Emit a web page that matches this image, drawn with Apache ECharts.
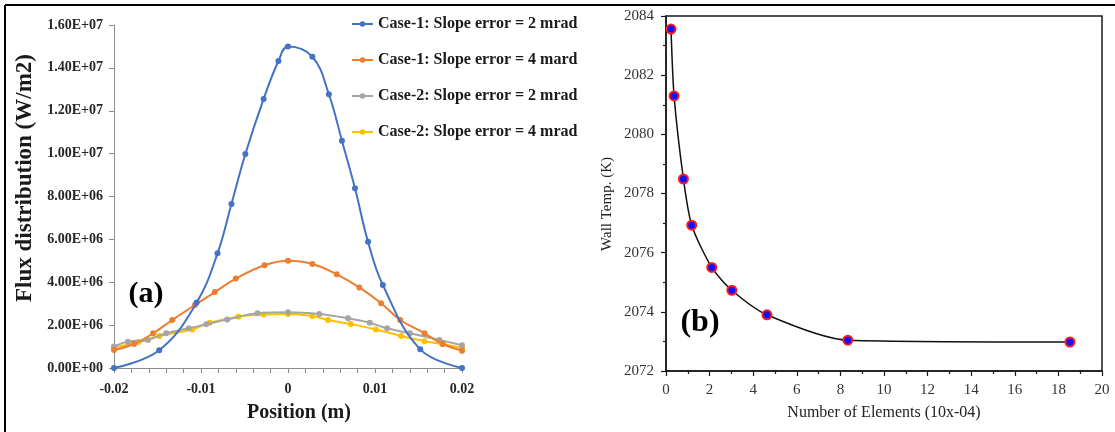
<!DOCTYPE html>
<html>
<head>
<meta charset="utf-8">
<title>Flux distribution and mesh independence</title>
<script src="https://cdn.jsdelivr.net/npm/echarts@6/dist/echarts.min.js"></script>
<style>
  html, body { margin: 0; padding: 0; background: #fff; }
  #chart { width: 1115px; height: 432px; }
</style>
</head>
<body>
<div id="chart"></div>
<script>
// ---- Panel (a): flux distribution along the receiver (position in m, flux in W/m2) ----
const case1Err2X = [-0.02, -0.0148, -0.0105, -0.0081, -0.0065, -0.0049, -0.0028, -0.0011, 0, 0.0028, 0.0047, 0.0062, 0.0077, 0.0092, 0.0109, 0.0152, 0.02];
const case1Err2Y = [0, 0.83e6, 3.05e6, 5.35e6, 7.65e6, 9.98e6, 12.55e6, 14.32e6, 15.0e6, 14.52e6, 12.77e6, 10.6e6, 8.38e6, 5.89e6, 3.87e6, 0.87e6, 0];

const case1Err4X = [-0.02, -0.0177, -0.0155, -0.0133, -0.0107, -0.0084, -0.006, -0.0027, 0, 0.0028, 0.0056, 0.0082, 0.0107, 0.0129, 0.0157, 0.0178, 0.02];
const case1Err4Y = [0.84e6, 1.12e6, 1.62e6, 2.24e6, 2.94e6, 3.54e6, 4.17e6, 4.79e6, 5.0e6, 4.85e6, 4.37e6, 3.76e6, 3.02e6, 2.24e6, 1.62e6, 1.12e6, 0.81e6];

const case2Err2X = [-0.02, -0.0184, -0.0161, -0.014, -0.0114, -0.0094, -0.007, -0.0035, 0, 0.0036, 0.0069, 0.0094, 0.0114, 0.014, 0.0174, 0.02];
const case2Err2Y = [1.0e6, 1.23e6, 1.31e6, 1.62e6, 1.85e6, 2.04e6, 2.26e6, 2.55e6, 2.6e6, 2.52e6, 2.32e6, 2.11e6, 1.85e6, 1.62e6, 1.31e6, 1.06e6];

const case2Err4X = [-0.02, -0.0172, -0.0148, -0.011, -0.009, -0.0057, -0.0028, 0, 0.0028, 0.0046, 0.0072, 0.0101, 0.013, 0.0157, 0.0177, 0.02];
const case2Err4Y = [0.95e6, 1.21e6, 1.49e6, 1.8e6, 2.11e6, 2.39e6, 2.49e6, 2.52e6, 2.42e6, 2.24e6, 2.05e6, 1.8e6, 1.49e6, 1.25e6, 1.12e6, 0.93e6];

const seriesNames = [
  'Case-1: Slope error = 2 mrad',
  'Case-1: Slope error = 4 mard',
  'Case-2: Slope error = 2 mrad',
  'Case-2: Slope error = 4 mrad'
];
const positionTicks = ['-0.02', '-0.01', '0', '0.01', '0.02'];
const fluxTicks = ['0.00E+00', '2.00E+06', '4.00E+06', '6.00E+06', '8.00E+06', '1.00E+07', '1.20E+07', '1.40E+07', '1.60E+07'];

// ---- Panel (b): wall temperature vs. mesh size ----
const elementsX = [0.23, 0.37, 0.8, 1.18, 2.1, 3.02, 4.63, 8.34, 18.53];
const wallTempY = [2083.56, 2081.30, 2078.49, 2076.93, 2075.50, 2074.73, 2073.90, 2073.04, 2072.98];
const elementTicks = ['0', '2', '4', '6', '8', '10', '12', '14', '16', '18', '20'];
const tempTicks = ['2072', '2074', '2076', '2078', '2080', '2082', '2084'];

const pairs = (xs, ys) => xs.map((x, i) => [x, ys[i]]);
const serif = 'Liberation Serif';
const colors = ['#4472C4', '#ED7D31', '#A5A5A5', '#FFC000'];
const axisGray = '#8c8c8c';

const fluxSeries = [
  [case1Err2X, case1Err2Y],
  [case1Err4X, case1Err4Y],
  [case2Err2X, case2Err2Y],
  [case2Err4X, case2Err4Y]
].map(([xs, ys], i) => ({
  name: seriesNames[i],
  type: 'line',
  xAxisIndex: 0,
  yAxisIndex: 0,
  data: pairs(xs, ys),
  smooth: 0.4,
  symbol: 'circle',
  symbolSize: 6,
  lineStyle: { color: colors[i], width: 2 },
  itemStyle: { color: colors[i] },
  z: 10 - i
}));

const chart = echarts.init(document.getElementById('chart'), null, { renderer: 'canvas' });

chart.setOption({
  animation: false,
  backgroundColor: '#ffffff',
  grid: [
    { left: 114, top: 25, width: 348, height: 343, outerBoundsMode: 'none' },
    { left: 666, top: 16, width: 436, height: 355, outerBoundsMode: 'none',
      show: true, borderColor: '#1a1a1a', borderWidth: 1.5, backgroundColor: 'transparent' }
  ],
  legend: {
    data: seriesNames,
    orient: 'vertical',
    left: 346,
    top: 11,
    itemWidth: 21,
    itemHeight: 7,
    itemGap: 20,
    textStyle: { fontFamily: serif, fontWeight: 'bold', fontSize: 16, color: '#1a1a1a', lineHeight: 16 }
  },
  xAxis: [
    {
      type: 'value', gridIndex: 0, min: -0.02, max: 0.02, interval: 0.01,
      axisLine: { show: true, onZero: false, lineStyle: { color: axisGray, width: 1 } },
      axisTick: { show: true, inside: false, length: 5, lineStyle: { color: axisGray } },
      minorTick: { show: true, splitNumber: 5, length: 5, lineStyle: { color: axisGray } },
      splitLine: { show: false },
      axisLabel: {
        margin: 14, fontFamily: serif, fontWeight: 'bold', fontSize: 14, color: '#262626',
        formatter: v => positionTicks[Math.round((v + 0.02) / 0.01)]
      }
    },
    {
      type: 'value', gridIndex: 1, min: 0, max: 20, interval: 2,
      axisLine: { show: true, onZero: false, lineStyle: { color: '#1a1a1a', width: 1.5 } },
      axisTick: { show: true, inside: false, length: 5, lineStyle: { color: '#1a1a1a', width: 1.2 } },
      minorTick: { show: true, splitNumber: 2, length: 3, lineStyle: { color: '#1a1a1a', width: 1.2 } },
      splitLine: { show: false },
      axisLabel: {
        margin: 12, fontFamily: serif, fontSize: 15, color: '#333',
        formatter: v => elementTicks[Math.round(v / 2)]
      }
    }
  ],
  yAxis: [
    {
      type: 'value', gridIndex: 0, min: 0, max: 1.6e7, interval: 2e6,
      axisLine: { show: true, onZero: false, lineStyle: { color: axisGray, width: 1 } },
      axisTick: { show: true, inside: false, length: 5, lineStyle: { color: axisGray } },
      splitLine: { show: false },
      axisLabel: {
        margin: 11, fontFamily: serif, fontWeight: 'bold', fontSize: 14, color: '#262626',
        formatter: v => fluxTicks[Math.round(v / 2e6)]
      }
    },
    {
      type: 'value', gridIndex: 1, min: 2072, max: 2084, interval: 2,
      axisLine: { show: true, onZero: false, lineStyle: { color: '#1a1a1a', width: 1.5 } },
      axisTick: { show: true, inside: false, length: 5, lineStyle: { color: '#1a1a1a', width: 1.2 } },
      minorTick: { show: true, splitNumber: 2, length: 3, lineStyle: { color: '#1a1a1a', width: 1.2 } },
      splitLine: { show: false },
      axisLabel: {
        margin: 12, fontFamily: serif, fontSize: 15, color: '#333',
        formatter: v => tempTicks[Math.round((v - 2072) / 2)]
      }
    }
  ],
  series: [
    ...fluxSeries,
    {
      name: 'Wall Temp.',
      type: 'line',
      xAxisIndex: 1,
      yAxisIndex: 1,
      data: pairs(elementsX, wallTempY),
      smooth: 0.25,
      symbol: 'circle',
      symbolSize: 9,
      lineStyle: { color: '#111', width: 1.5 },
      itemStyle: { color: '#1010ff', borderColor: '#ff1a1a', borderWidth: 2 },
      z: 5
    }
  ],
  graphic: [
    // outer frame lines
    { type: 'line', shape: { x1: 5, y1: 5, x2: 1115, y2: 5 }, style: { stroke: '#000', lineWidth: 2 } },
    { type: 'line', shape: { x1: 5, y1: 5, x2: 5, y2: 432 }, style: { stroke: '#000', lineWidth: 2 } },
    // panel (a) titles
    { type: 'text', x: 25, y: 178, rotation: Math.PI / 2,
      style: { text: 'Flux distribution (W/m2)', fontFamily: serif, fontWeight: 'bold', fontSize: 23,
               fill: '#1a1a1a', align: 'center', verticalAlign: 'middle' } },
    { type: 'text', x: 299, y: 413,
      style: { text: 'Position (m)', fontFamily: serif, fontWeight: 'bold', fontSize: 20,
               fill: '#1a1a1a', align: 'center', verticalAlign: 'middle' } },
    { type: 'text', x: 146, y: 294,
      style: { text: '(a)', fontFamily: serif, fontWeight: 'bold', fontSize: 30,
               fill: '#000', align: 'center', verticalAlign: 'middle' } },
    // panel (b) titles
    { type: 'text', x: 607, y: 204, rotation: Math.PI / 2,
      style: { text: 'Wall Temp. (K)', fontFamily: serif, fontSize: 15,
               fill: '#222', align: 'center', verticalAlign: 'middle' } },
    { type: 'text', x: 884, y: 413,
      style: { text: 'Number of Elements (10x-04)', fontFamily: serif, fontSize: 16,
               fill: '#222', align: 'center', verticalAlign: 'middle' } },
    { type: 'text', x: 700, y: 323,
      style: { text: '(b)', fontFamily: serif, fontWeight: 'bold', fontSize: 32,
               fill: '#000', align: 'center', verticalAlign: 'middle' } }
  ]
});
</script>
</body>
</html>
